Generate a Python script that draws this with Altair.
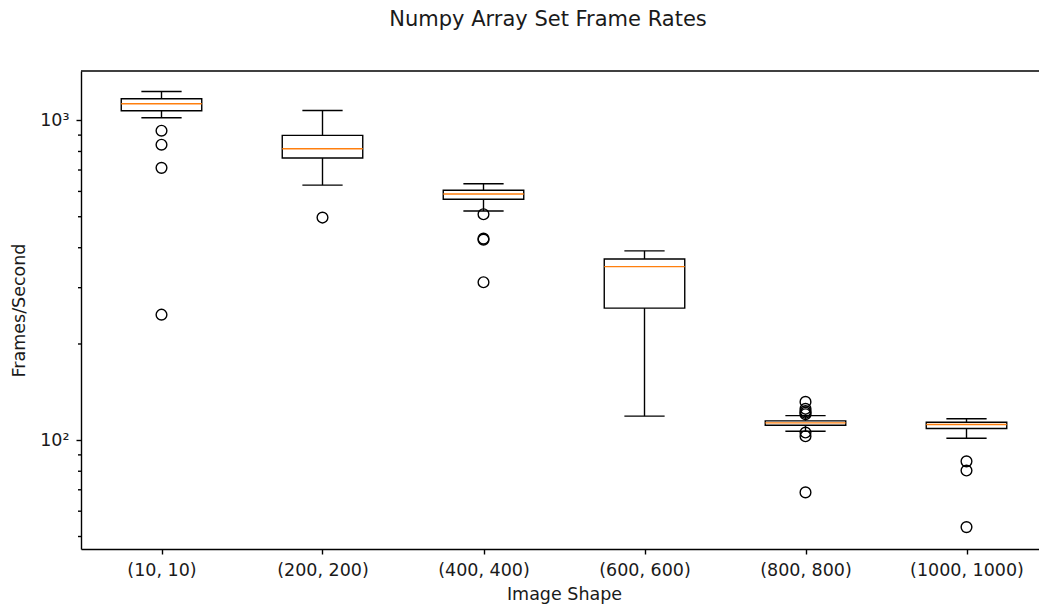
import json
import altair as alt
import pandas as pd

# ---- data ----
categories = ["(10, 10)", "(200, 200)", "(400, 400)", "(600, 600)", "(800, 800)", "(1000, 1000)"]
whisker_low = [1020, 628, 521, 119, 106.7, 101.4]
q1 = [1072, 763, 567, 259, 111.4, 108.8]
median = [1128, 816, 589, 349, 113.3, 112.0]
q3 = [1169, 898, 605, 369, 115.0, 113.8]
whisker_high = [1232, 1075, 634, 391, 119.4, 116.7]

outlier_shape = (["(10, 10)"] * 4 + ["(200, 200)"] + ["(400, 400)"] * 4
                 + ["(800, 800)"] * 8 + ["(1000, 1000)"] * 3)
outlier_fps = [929, 840, 711, 247,
               497,
               509, 427, 424, 312,
               131.8, 125.4, 123.3, 121.9, 120.6, 105.7, 102.9, 68.7,
               85.9, 80.4, 53.5]

major_ticks = [100, 1000]
minor_ticks = [50, 60, 70, 80, 90, 200, 300, 400, 500, 600, 700, 800, 900]

# ---- tables ----
boxes = pd.DataFrame({
    "shape": categories,
    "pos": list(range(1, len(categories) + 1)),
    "whislo": whisker_low, "q1": q1, "med": median, "q3": q3, "whishi": whisker_high,
})
outliers = pd.DataFrame({
    "shape": outlier_shape,
    "pos": [categories.index(s) + 1 for s in outlier_shape],
    "fps": outlier_fps,
})
minor = pd.DataFrame({"fps": minor_ticks})

W, H = 958, 478
STEP = 161.0
FONT = "DejaVu Sans"
FS = 17.5
LW = 1.4
INK = "#1a1a1a"

xscale = alt.Scale(domain=[0.5, 0.5 + W / STEP], nice=False, zero=False)
yscale = alt.Scale(type="log", domain=[45.7, 1428], nice=False, zero=False)

axis_style = dict(
    grid=False, tickSize=5, labelPadding=7, labelFlush=False, labelOverlap=False,
    labelFont=FONT, titleFont=FONT, labelFontSize=FS, titleFontSize=FS,
    labelColor=INK, titleColor=INK, titleFontWeight="normal",
    domainColor="black", tickColor="black", domainWidth=LW, tickWidth=LW,
)
xaxis = alt.Axis(
    values=list(range(1, len(categories) + 1)),
    labelExpr=json.dumps(categories) + "[datum.value - 1]",
    title="Image Shape", titlePadding=7, titleX=483, **axis_style,
)
yaxis = alt.Axis(
    values=major_ticks,
    labelExpr="datum.value >= 1000 ? '10³' : '10²'",
    title="Frames/Second", titlePadding=11, **axis_style,
)

X = lambda f: alt.X(f, type="quantitative", scale=xscale, axis=xaxis)
Y = lambda f: alt.Y(f, type="quantitative", scale=yscale, axis=yaxis)

HALF_BOX = 0.25
HALF_CAP = 0.125

base = alt.Chart(boxes).transform_calculate(
    bl=f"datum.pos - {HALF_BOX}", br=f"datum.pos + {HALF_BOX}",
    cl=f"datum.pos - {HALF_CAP}", cr=f"datum.pos + {HALF_CAP}",
)

whisk_hi = base.mark_rule(color="black", strokeWidth=LW).encode(
    x=X("pos"), y=Y("q3"), y2=alt.Y2("whishi"))
whisk_lo = base.mark_rule(color="black", strokeWidth=LW).encode(
    x=X("pos"), y=Y("whislo"), y2=alt.Y2("q1"))
cap_hi = base.mark_rule(color="black", strokeWidth=LW).encode(
    x=X("cl"), x2=alt.X2("cr"), y=Y("whishi"))
cap_lo = base.mark_rule(color="black", strokeWidth=LW).encode(
    x=X("cl"), x2=alt.X2("cr"), y=Y("whislo"))
box = base.mark_rect(fill="white", stroke="black", strokeWidth=LW).encode(
    x=X("bl"), x2=alt.X2("br"), y=Y("q1"), y2=alt.Y2("q3"))
med = base.mark_rule(color="#ff7f0e", strokeWidth=LW).encode(
    x=X("bl"), x2=alt.X2("br"), y=Y("med"))
fliers = alt.Chart(outliers).mark_point(
    shape="circle", filled=False, size=115, stroke="black", strokeWidth=LW, opacity=1
).encode(x=X("pos"), y=Y("fps"))
minor_rules = alt.Chart(minor).mark_rule(color="black", strokeWidth=LW).encode(
    x=alt.value(-3), x2=alt.value(0), y=Y("fps"))
top_spine = alt.Chart(pd.DataFrame({"a": [0]})).mark_rule(color="black", strokeWidth=LW).encode(
    x=alt.value(0), x2=alt.value(W), y=alt.value(0))

chart = alt.layer(
    whisk_hi, whisk_lo, box, med, cap_hi, cap_lo, fliers, minor_rules, top_spine
).properties(
    width=W, height=H,
    background="white",
    title=alt.TitleParams(
        text="Numpy Array Set Frame Rates", fontSize=21, font=FONT,
        fontWeight="normal", anchor="middle", frame="group", dx=-12,
        offset=23, baseline="alphabetic", color=INK,
    ),
    autosize=alt.AutoSizeParams(type="none"),
    padding={"left": 81, "top": 71, "right": 0, "bottom": 59},
).configure_view(stroke=None)

chart.save("out.html", embed_options={"renderer": "svg", "actions": False})
